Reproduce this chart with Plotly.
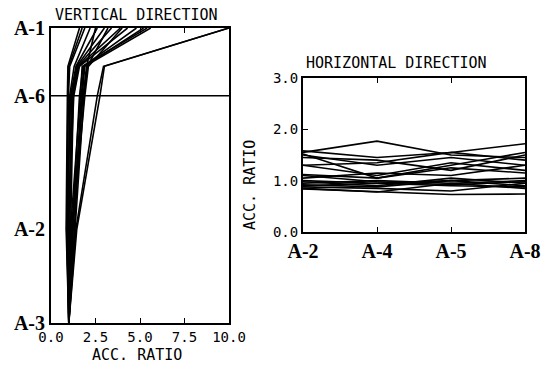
import plotly.graph_objects as go

# ---------------- data ----------------
# Vertical direction: measurement levels from base (A-3) to top (A-1)
v_levels = ["A-3", "A-2", "A-6", "R", "A-1"]
v_heights = [0.0, 9.56, 23.1, 26.1, 30.0]
v_tick_labels = ["A-3", "A-2", "A-6", "A-1"]
v_tick_heights = [0.0, 9.56, 23.1, 30.0]
v_ratio_ticks = [0, 2.5, 5, 7.5, 10]
v_ratio_labels = ["0.0", "2.5", "5.0", "7.5", "10.0"]

vertical_ratios = [
    [1.0, 0.85, 0.92, 0.95, 1.60],
    [1.0, 0.88, 0.98, 1.05, 1.90],
    [1.0, 0.95, 1.05, 1.30, 2.20],
    [1.0, 0.90, 1.10, 1.40, 2.60],
    [1.0, 1.00, 1.15, 1.45, 3.00],
    [1.0, 1.05, 1.20, 1.50, 3.40],
    [1.0, 1.10, 1.25, 1.55, 3.90],
    [1.0, 0.95, 1.28, 1.60, 4.30],
    [1.0, 1.20, 1.60, 1.80, 4.80],
    [1.0, 1.25, 1.70, 1.85, 5.20],
    [1.0, 1.30, 1.75, 1.90, 5.60],
    [1.0, 1.15, 1.80, 2.00, 2.50],
    [1.0, 1.35, 1.85, 2.05, 3.20],
    [1.0, 1.20, 1.90, 2.10, 4.00],
    [1.0, 1.10, 1.65, 1.75, 5.40],
    [1.0, 1.40, 2.60, 2.95, 10.0],
    [1.0, 1.45, 2.75, 3.00, 10.0],
    [1.0, 0.90, 0.95, 1.00, 1.75],
]

# Horizontal direction
h_floors = ["A-2", "A-4", "A-5", "A-8"]
h_ratio_ticks = [0, 1, 2, 3]
h_ratio_labels = ["0.0", "1.0", "2.0", "3.0"]
horizontal_ratios = [
    [1.55, 1.77, 1.50, 1.45],
    [1.58, 1.45, 1.55, 1.72],
    [1.52, 1.05, 1.30, 1.55],
    [1.50, 1.30, 1.45, 1.30],
    [1.45, 1.40, 1.20, 1.50],
    [1.30, 1.35, 1.55, 1.40],
    [1.30, 1.10, 1.35, 1.20],
    [1.12, 1.05, 1.25, 1.15],
    [1.05, 1.15, 1.10, 1.30],
    [1.00, 0.95, 1.00, 1.05],
    [0.98, 0.90, 1.05, 0.95],
    [0.95, 1.00, 0.95, 1.00],
    [0.92, 0.88, 1.00, 0.90],
    [0.90, 0.95, 0.90, 0.88],
    [0.88, 0.85, 0.80, 0.95],
    [0.85, 0.78, 0.95, 0.85],
    [0.84, 0.79, 0.73, 0.74],
    [1.10, 0.98, 0.92, 0.98],
]

# ---------------- figure ----------------
MONO = "DejaVu Sans Mono"
SERIF = "Liberation Serif"
fig = go.Figure()

for row in vertical_ratios:
    fig.add_trace(go.Scatter(x=row, y=v_heights, mode="lines",
                             line=dict(color="black", width=1.6),
                             xaxis="x", yaxis="y", showlegend=False,
                             hoverinfo="skip"))

for row in horizontal_ratios:
    fig.add_trace(go.Scatter(x=h_floors, y=row, mode="lines",
                             line=dict(color="black", width=1.6),
                             xaxis="x2", yaxis="y2", showlegend=False,
                             hoverinfo="skip"))

axis_common = dict(showline=True, linecolor="black", linewidth=2,
                   showgrid=False, zeroline=False, automargin=False)

fig.update_layout(
    width=546, height=372,
    margin=dict(l=0, r=0, t=0, b=0, autoexpand=False),
    paper_bgcolor="white", plot_bgcolor="white",
    xaxis=dict(domain=[51/546, 229/546], range=[0, 10],
               tickvals=v_ratio_ticks, ticktext=v_ratio_labels,
               ticks="inside", ticklen=5, tickcolor="black", tickwidth=1,
               mirror="ticks", anchor="y",
               tickfont=dict(family=MONO, size=14, color="black"),
               **axis_common),
    yaxis=dict(domain=[49/372, 344/372], range=[0, 30],
               tickvals=v_tick_heights, ticktext=v_tick_labels,
               ticks="", mirror=True, anchor="x",
               tickfont=dict(family=SERIF, size=20, color="black", weight="bold"),
               **axis_common),
    xaxis2=dict(domain=[303/546, 525/546], type="category",
                categoryorder="array", categoryarray=h_floors,
                range=[0, 3],
                ticks="inside", ticklen=5, tickcolor="black", tickwidth=1,
                mirror="ticks", anchor="y2",
                tickfont=dict(family=SERIF, size=20, color="black", weight="bold"),
                **axis_common),
    yaxis2=dict(domain=[140/372, 294/372], range=[0, 3],
                tickvals=h_ratio_ticks, ticktext=h_ratio_labels,
                ticks="inside", ticklen=5, tickcolor="black", tickwidth=1,
                mirror="ticks", anchor="x2",
                tickfont=dict(family=MONO, size=14, color="black"),
                **axis_common),
)

# A-6 reference line across the vertical panel
fig.add_shape(type="line", xref="x domain", yref="y",
              x0=0, x1=1, y0=v_heights[2], y1=v_heights[2],
              line=dict(color="black", width=1.5))

ann_font = dict(family=MONO, size=15, color="black")
common_ann = dict(xref="paper", yref="paper", showarrow=False,
                  xanchor="center", yanchor="middle", font=ann_font)
fig.add_annotation(text="VERTICAL DIRECTION", x=136/546, y=(372-15)/372, **common_ann)
fig.add_annotation(text="ACC. RATIO", x=137/546, y=(372-355)/372, **common_ann)
fig.add_annotation(text="HORIZONTAL DIRECTION", x=396/546, y=(372-63)/372, **common_ann)
fig.add_annotation(text="ACC. RATIO", x=250/546, y=(372-185)/372,
                   textangle=-90, **common_ann)

fig.write_html("out.html")
